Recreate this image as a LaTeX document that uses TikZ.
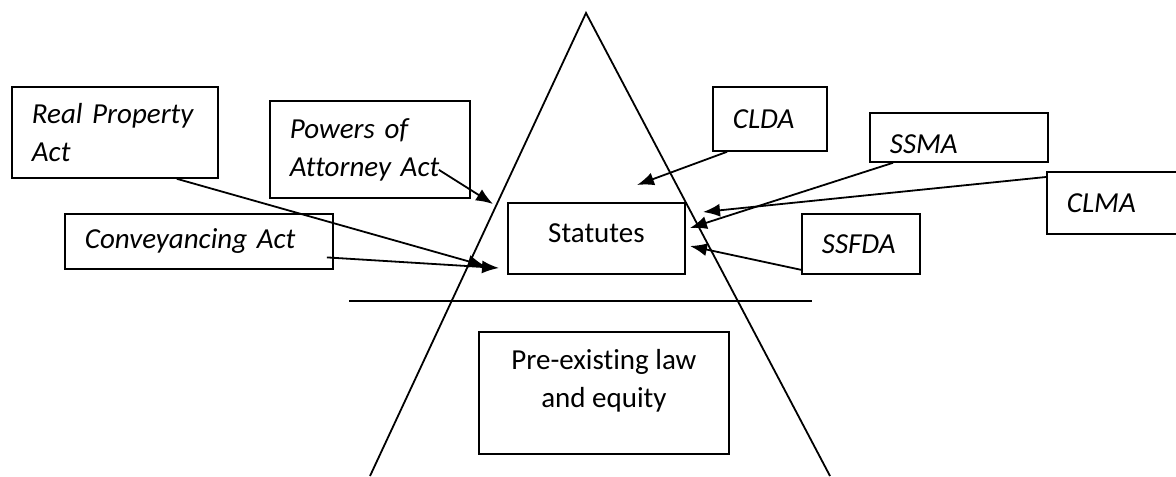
\documentclass[tikz,border=0pt]{standalone}
\usepackage{fontspec}
\setmainfont{Carlito}[Ligatures=NoCommon]
\usetikzlibrary{arrows.meta,calc,positioning}
\tikzset{
  act/.style={draw,line width=0.9pt,anchor=north west,align=left,inner xsep=10pt,inner ysep=0pt,font=\fontsize{14.5}{19}\selectfont\itshape},
  law/.style={draw,line width=0.9pt,anchor=north west,align=center,inner sep=0pt,font=\fontsize{14.5}{19}\selectfont},
  feed/.style={line width=0.9pt,arrows = {-Latex[length=8.5pt,width=6.5pt]}}
}
\begin{document}
\begin{tikzpicture}[x=0.5pt,y=-0.5pt]
        \useasboundingbox (0,0) rectangle (1176,476);
        % pyramid and the dividing line
        \coordinate (apex) at (586,13);
        \draw[line width=0.9pt] (370,476) -- (apex) -- (830,476);
        \draw[line width=0.9pt] (349,301) -- (812,301);
        \node[law,minimum width=88.5pt,minimum height=35.5pt,text depth=5.5pt] (statutes) at (507,202) {Statutes};
        \node[law,minimum width=125pt,minimum height=61pt,text depth=14pt] (preex) at (478,331) {Pre-existing law\\and equity};
        % the acts
        \node[act,text width=83pt,minimum height=45.5pt] (realprop) at (11,86) {Real Property\\Act};
        \node[act,text width=80pt,minimum height=48.5pt] (powers) at (269,100) {Powers of\\Attorney Act};
        \node[act,text width=114pt,minimum height=27.5pt] (conv) at (64,213) {Conveyancing Act};
        \node[act,text width=37pt,minimum height=32pt] (clda) at (712,86) {CLDA};
        \node[act,text width=69pt,minimum height=24.5pt,text height=16pt] (ssma) at (869,112) {SSMA};
        \node[act,text width=57pt,minimum height=31pt] (clma) at (1046,171) {CLMA};
        \node[act,text width=39pt,minimum height=30pt] (ssfda) at (801,213) {SSFDA};
        % where the arrows land
        \coordinate (rpTip) at (485,266);
        \coordinate (convTip) at (499,268);
        \coordinate (powTip) at (493,204);
        \coordinate (cldaTip) at (637,185);
        \coordinate (ssmaTip) at (690,228);
        \coordinate (clmaTip) at (703,212);
        \coordinate (ssfdaTip) at (690,246);
        \draw[feed] ([xshift=-21pt]realprop.south east) -- (rpTip);
        \draw[feed] ([shift={(-3.5pt,-8pt)}]conv.east) -- (convTip);
        \draw[feed] ([shift={(-16pt,14.5pt)}]powers.south east) -- (powTip);
        \draw[feed] ([xshift=7.5pt]clda.south west) -- (cldaTip);
        \draw[feed] ([xshift=12pt]ssma.south west) -- (ssmaTip);
        \draw[feed] ([yshift=-3pt]clma.north west) -- (clmaTip);
        \draw[feed] ([yshift=2.5pt]ssfda.south west) -- (ssfdaTip);
      \end{tikzpicture}
\end{document}
